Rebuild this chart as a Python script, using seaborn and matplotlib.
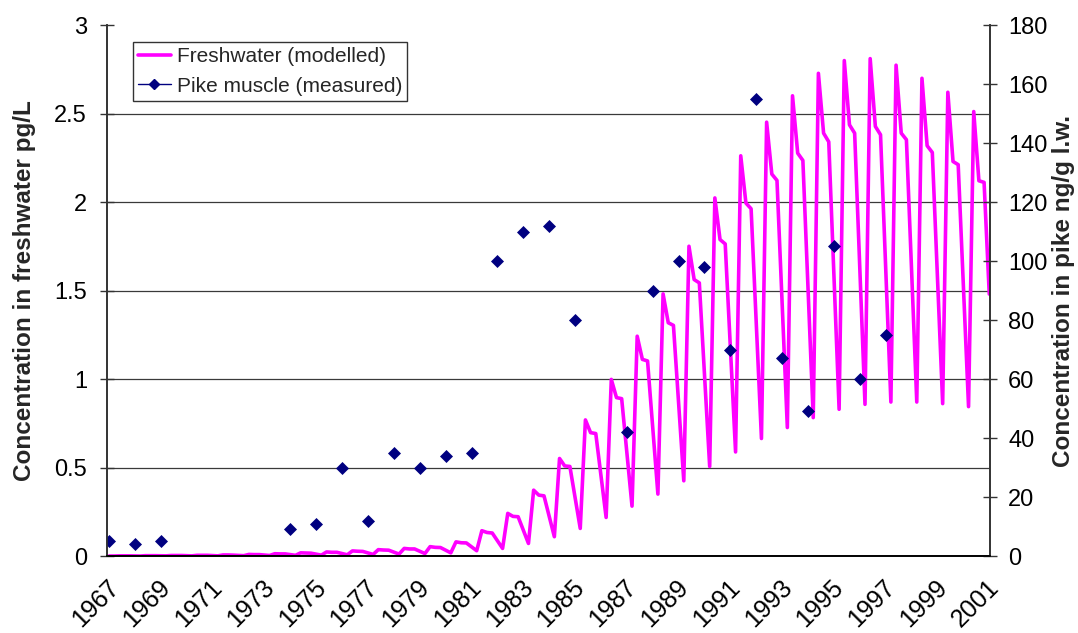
import numpy as np
import pandas as pd
import matplotlib
matplotlib.use("Agg")
import matplotlib.pyplot as plt
import matplotlib.transforms as mtransforms
from matplotlib.lines import Line2D
import seaborn as sns

# Modelled freshwater concentration (pg/L), sampled within each year:
# fw_low at .3, fw_peak at .5, fw_k1 at .7, fw_k2 at .9 of the year
years = list(range(1967, 2001))
fw_low = [0.000, 0.000, 0.001, 0.001, 0.001, 0.002, 0.003, 0.004, 0.005, 0.007,
          0.009, 0.011, 0.014, 0.018, 0.030, 0.043, 0.071, 0.109, 0.156, 0.218,
          0.282, 0.350, 0.425, 0.506, 0.588, 0.664, 0.726, 0.782, 0.829, 0.857,
          0.870, 0.870, 0.861, 0.844]
fw_peak = [0.001, 0.002, 0.003, 0.004, 0.006, 0.009, 0.013, 0.018, 0.023, 0.029,
           0.036, 0.043, 0.053, 0.080, 0.143, 0.241, 0.372, 0.551, 0.769, 0.998,
           1.242, 1.481, 1.750, 2.023, 2.261, 2.451, 2.600, 2.727, 2.799, 2.810,
           2.773, 2.699, 2.620, 2.511]
fw_k1 = [0.001, 0.002, 0.003, 0.004, 0.006, 0.008, 0.012, 0.017, 0.021, 0.027,
         0.034, 0.040, 0.049, 0.075, 0.133, 0.224, 0.344, 0.509, 0.697, 0.895,
         1.111, 1.318, 1.562, 1.788, 1.994, 2.158, 2.276, 2.389, 2.436, 2.427,
         2.389, 2.318, 2.229, 2.120]
fw_k2 = [0.001, 0.002, 0.003, 0.004, 0.005, 0.008, 0.012, 0.016, 0.021, 0.026,
         0.033, 0.040, 0.048, 0.074, 0.130, 0.222, 0.340, 0.506, 0.692, 0.889,
         1.102, 1.303, 1.543, 1.763, 1.962, 2.122, 2.235, 2.340, 2.389, 2.380,
         2.352, 2.280, 2.211, 2.111]
fw_start = 0.0   # 1967.1
fw_end = 1.48    # 2001.1

# Measured pike muscle concentration (ng/g lipid weight)
pike_years = [1967, 1968, 1969, 1974, 1975, 1976, 1977, 1978, 1979, 1980, 1981,
              1982, 1983, 1984, 1985, 1987, 1988, 1989, 1990, 1991, 1992, 1993,
              1994, 1995, 1996, 1997]
pike_values = [5, 4, 5, 9, 11, 30, 12, 35, 30, 34, 35,
               100, 110, 112, 80, 42, 90, 100, 98, 70, 155, 67,
               49, 105, 60, 75]

tick_years = list(range(1967, 2002, 2))
left_ticks = [0, 0.5, 1, 1.5, 2, 2.5, 3]
left_labels = ["0", "0.5", "1", "1.5", "2", "2.5", "3"]
right_ticks = list(range(0, 181, 20))

sns.set_style("white")
plt.rcParams["font.family"] = ["Liberation Sans", "DejaVu Sans"]

t = [1967.1]
v = [fw_start]
for y, lo, pk, k1, k2 in zip(years, fw_low, fw_peak, fw_k1, fw_k2):
    t += [y + 0.3, y + 0.5, y + 0.7, y + 0.9]
    v += [lo, pk, k1, k2]
t.append(2001.1)
v.append(fw_end)
fw = pd.DataFrame({"year": t, "conc": v})
pike = pd.DataFrame({"year": [y + 0.1 for y in pike_years], "conc": pike_values})

fig = plt.figure(figsize=(10.78, 6.33), dpi=100)
ax = fig.add_axes([0.0988, 0.1216, 0.8196, 0.8389])

sns.lineplot(data=fw, x="year", y="conc", ax=ax, color="#FF00FF",
             linewidth=2.6, sort=False, legend=False)

TICK_FS = 17
TITLE_FS = 17.5
ax.set_xlim(1967, 2001.13)
ax.set_ylim(0, 3)
ax.set_yticks(left_ticks)
ax.set_yticklabels(left_labels)
ax.set_xticks(tick_years)
ax.set_xticklabels([str(y) for y in tick_years], rotation=45, ha="right",
                   va="top", rotation_mode="anchor", fontsize=18)
shift = mtransforms.ScaledTranslation(-13 / 100, 0, fig.dpi_scale_trans)
for lbl in ax.get_xticklabels():
    lbl.set_transform(lbl.get_transform() + shift)
ax.set_xlabel("")
ax.set_ylabel("Concentration in freshwater pg/L", fontsize=TITLE_FS,
              fontweight="bold", labelpad=13)
ax.grid(axis="y", color="#3a3a3a", linewidth=0.9)
ax.grid(axis="x", visible=False)
ax.get_ygridlines()[-1].set_visible(False)
ax.set_axisbelow(True)
ax.tick_params(axis="both", direction="inout", length=10, width=1,
               colors="#333333", labelcolor="black")
ax.tick_params(axis="y", pad=9, labelsize=TICK_FS)
ax.tick_params(axis="x", pad=9)

ax2 = ax.twinx()
sns.scatterplot(data=pike, x="year", y="conc", ax=ax2, marker="D", s=44,
                color="#000080", edgecolor="#000080", linewidth=0,
                legend=False)
ax2.set_xlim(1967, 2001.13)
ax2.set_ylim(0, 180)
ax2.set_yticks(right_ticks)
ax2.set_ylabel("Concentration in pike ng/g l.w.", fontsize=TITLE_FS,
               fontweight="bold", labelpad=3)
ax2.tick_params(axis="y", direction="inout", length=10, width=1, pad=8,
                colors="#333333", labelcolor="black", labelsize=TICK_FS)

for a in (ax, ax2):
    a.spines["top"].set_visible(False)
    a.spines["left"].set_color("#333333")
    a.spines["right"].set_color("#333333")
    a.spines["bottom"].set_color("black")
    for s in a.spines.values():
        s.set_linewidth(1.2)

handles = [
    Line2D([], [], color="#FF00FF", linewidth=2.6),
    Line2D([], [], color="#000080", linewidth=1, marker="D", markersize=5),
]
leg = ax2.legend(handles, ["Freshwater (modelled)", "Pike muscle (measured)"],
                 loc="upper left", bbox_to_anchor=(0.030, 0.968),
                 borderaxespad=0, fontsize=15, frameon=True, fancybox=False,
                 edgecolor="black", handlelength=1.55, handletextpad=0.3,
                 borderpad=0.25, labelspacing=0.5)
leg.get_frame().set_linewidth(1)

fig.savefig("out.png", dpi=100, facecolor="white")
